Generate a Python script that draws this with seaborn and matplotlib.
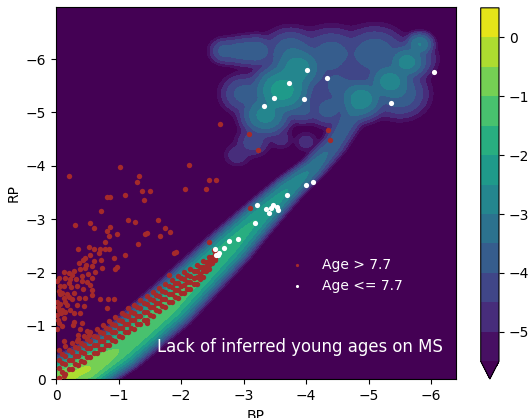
import numpy as np
import matplotlib
matplotlib.use("Agg")
import matplotlib.pyplot as plt
import seaborn as sns
import pandas as pd

# ---------------- density field description (log10 density) ----------------
ms_x = [0.5, -0.5, -1.0, -1.8, -2.8, -3.2, -3.7, -4.1, -4.45, -4.7, -4.9]
ms_y = [0.35, -0.2, -0.55, -1.35, -2.5, -2.98, -3.55, -3.95, -4.4, -4.9, -5.25]
ms_logpeak = [-0.3, -0.45, -1.0, -1.2, -1.7, -2.0, -2.5, -3.1, -3.7, -3.7, -3.2]
ms_width = [0.1, 0.1, 0.1, 0.105, 0.095, 0.085, 0.075, 0.07, 0.08, 0.09, 0.1]

blob_x = [-2.70, -2.95, -3.20, -3.75, -4.40, -5.10, -5.70, -5.50, -4.50, -3.00, -4.35, -3.95,
          -2.90, -3.15, -3.60, -4.00,
          -3.35, -3.62, -3.87, -4.88, -5.34, -5.61, -5.82]
blob_y = [-6.15, -6.15, -6.15, -6.15, -6.10, -6.10, -6.00, -5.35, -5.50, -5.35, -5.05, -5.05,
          -4.20, -4.45, -4.50, -4.45,
          -4.95, -5.42, -5.82, -5.25, -5.58, -5.94, -6.28]
blob_sigma = [0.10, 0.11, 0.12, 0.17, 0.20, 0.20, 0.15, 0.18, 0.20, 0.15, 0.13, 0.11,
              0.10, 0.12, 0.09, 0.09,
              0.14, 0.16, 0.15, 0.14, 0.13, 0.11, 0.08]
blob_logpeak = [-3.8, -3.7, -3.6, -3.6, -3.75, -3.6, -3.7, -3.6, -3.9, -3.8, -3.8, -3.9,
                -4.6, -4.2, -4.7, -4.7,
                -2.8, -2.25, -2.7, -2.8, -2.75, -2.8, -3.0]

# ---------------- scatter data ----------------
old_x = [-0.20, -1.03, -2.13, -1.32, -1.30, -2.06, -1.37, -1.50, -1.10, -0.87, -0.82, -1.41, -0.72,
         -0.30, -0.54, -0.61, -1.15, -1.27, -1.63, -0.86, -0.81, -1.75, -1.83, -1.46, -1.43, -0.98,
         -0.85, -0.78, -1.66, -1.31, -0.35, -0.52, -0.61, -0.71, -0.78, -0.85, -0.69, -0.54, -0.46,
         -1.11, -1.92, -1.89, -0.92, -0.72, -0.60, -0.43, -0.36, -0.48, -0.97, -0.94, -0.58, -0.47,
         -0.39, -0.73, -0.28, -0.13, -0.20, -0.26, -0.62, -0.51, -0.42, -0.57, -0.50, -0.41, -0.32,
         -0.23, -0.14, -0.05, -0.20, -0.12, -0.54, -0.34, -0.43, -0.57, -0.28, -0.17, -0.07, -0.04,
         -0.12, -0.25, -0.36, -0.46, -0.70, -0.83, -0.92, -0.06, -0.18, -0.33, -0.44, -0.04, -0.14,
         -0.28, -0.38, -0.81, -1.80, -0.57, -0.12, -0.28, -0.41, -0.03, -0.27, -0.10, -0.39, -0.49,
         -0.35, -0.33, -0.12, -0.52, -1.45,
         -0.02, -0.03, -0.02, -0.05, -0.01, -0.08, -0.06, -0.02, -0.10, -0.15, -0.20, -0.22, -0.09, -0.24,
         -2.62, -3.09, -3.23, -4.35, -4.38, -2.45, -2.56, -2.40, -3.10, -2.44, -2.52, -2.51,
         -0.04, -0.12]
old_y = [-3.81, -3.98, -4.01, -3.81, -3.70, -3.56, -3.53, -3.53, -3.46, -3.42, -3.42, -3.35, -3.16,
         -2.89, -2.92, -2.84, -2.98, -2.94, -2.99, -2.86, -2.77, -2.83, -2.76, -2.75, -2.73, -2.73,
         -2.68, -2.57, -2.69, -2.53, -2.44, -2.48, -2.45, -2.44, -2.44, -2.45, -2.37, -2.33, -2.28,
         -2.32, -2.39, -2.36, -2.28, -2.24, -2.21, -2.24, -2.17, -2.15, -2.10, -2.07, -2.12, -2.09,
         -2.07, -2.08, -2.02, -2.01, -1.99, -1.96, -2.01, -1.97, -1.94, -1.89, -1.82, -1.85, -1.87,
         -1.88, -1.89, -1.90, -1.80, -1.75, -1.77, -1.75, -1.69, -1.68, -1.62, -1.60, -1.60, -1.66,
         -1.52, -1.51, -1.52, -1.52, -1.50, -1.50, -1.51, -1.42, -1.40, -1.39, -1.38, -1.30, -1.27,
         -1.24, -1.25, -1.33, -1.96, -1.57, -1.15, -1.08, -1.05, -1.12, -1.02, -0.99, -0.94, -0.90,
         -0.83, -0.72, -0.71, -0.83, -1.05,
         -1.45, -1.35, -1.20, -1.05, -0.95, -1.25, -1.75, -1.85, -1.30, -1.45, -1.55, -1.30, -1.62, -1.72,
         -4.78, -4.59, -4.29, -4.67, -4.49, -3.73, -3.73, -3.57, -3.20, -2.58, -2.42, -2.28,
         -0.03, -0.06]

bandA_x = [-0.05, -0.15, -0.25, -0.35, -0.45, -0.55, -0.65, -0.75, -0.85, -0.95, -1.05, -1.15, -1.25,
           -1.35, -1.45, -1.55, -1.65, -1.75, -1.85, -1.95, -2.05, -2.15, -2.25, -2.35, -2.45, -2.55]
bandA_rows = [
    [-0.03, -0.10, -0.19, -0.26, -0.33, -0.41, -0.49, -0.56, -0.64, -0.72, -0.80, -0.88, -0.95,
     -1.03, -1.11, -1.19, -1.28, -1.36, -1.45, -1.53, -1.62, -1.70, -1.78, -1.91, -2.07, -2.23],
    [-0.21, -0.28, -0.36, -0.43, -0.50, -0.58, -0.65, -0.72, -0.80, -0.88, -0.96, -1.04, -1.11,
     -1.19, -1.27, -1.35, -1.43, -1.51, -1.59, -1.68, -1.76, -1.83, -1.91, -2.02, -2.15, -2.28],
    [-0.37, -0.44, -0.51, -0.58, -0.65, -0.72, -0.79, -0.86, -0.94, -1.02, -1.10, -1.18, -1.25,
     -1.33, -1.41, -1.48, -1.56, -1.64, -1.72, -1.80, -1.87, -1.94, -2.02, -2.11, -2.21, -2.32],
    [-0.55, -0.62, -0.68, -0.75, -0.82, -0.88, -0.94, -1.01, -1.09, -1.17, -1.25, -1.33, -1.40,
     -1.48, -1.56, -1.64, -1.71, -1.79, -1.86, -1.94, -2.01, -2.07, -2.15, -2.21, -2.29, -2.38],
]
bandB_x = [-0.10, -0.20, -0.30, -0.40, -0.50, -0.60, -0.70, -0.80, -0.90, -1.00, -1.10, -1.20, -1.30,
           -1.40, -1.50, -1.60, -1.70, -1.80, -1.90, -2.00, -2.10, -2.20, -2.30, -2.40, -2.50]
bandB_rows = [
    [-0.13, -0.20, -0.28, -0.35, -0.42, -0.50, -0.57, -0.65, -0.73, -0.81, -0.89, -0.96, -1.04,
     -1.12, -1.20, -1.29, -1.37, -1.45, -1.54, -1.62, -1.69, -1.78, -1.87, -2.03, -2.18],
    [-0.30, -0.37, -0.44, -0.51, -0.58, -0.65, -0.72, -0.80, -0.88, -0.96, -1.04, -1.11, -1.19,
     -1.27, -1.35, -1.43, -1.51, -1.59, -1.67, -1.75, -1.82, -1.90, -1.98, -2.11, -2.23],
    [-0.48, -0.55, -0.61, -0.68, -0.75, -0.81, -0.88, -0.96, -1.04, -1.12, -1.20, -1.27, -1.35,
     -1.43, -1.51, -1.58, -1.66, -1.74, -1.81, -1.89, -1.96, -2.03, -2.10, -2.19, -2.29],
]

young_x = [-4.01, -4.33, -3.73, -3.49, -3.96, -3.32, -5.36, -6.04, -4.00, -4.11, -3.70, -3.21, -3.36,
           -3.44, -3.47, -3.53, -3.55, -3.41, -3.19, -2.91, -2.77, -2.68, -2.55, -2.61, -2.56, -2.59]
young_y = [-5.80, -5.64, -5.56, -5.27, -5.25, -5.12, -5.18, -5.76, -3.64, -3.69, -3.46, -3.26, -3.19,
           -3.20, -3.26, -3.23, -3.18, -3.11, -2.93, -2.62, -2.60, -2.46, -2.44, -2.37, -2.33, -2.32]

labels = ["Age > 7.7", "Age <= 7.7"]
x_label, y_label = "BP", "RP"
note = "Lack of inferred young ages on MS"
levels = np.arange(-5.5, 0.51, 0.5)
cbar_ticks = [0, -1, -2, -3, -4, -5]
axis_ticks = [0, -1, -2, -3, -4, -5, -6]

# ---------------- build field ----------------
gx = np.linspace(0.3, -6.7, 500)
gy = np.linspace(0.3, -7.3, 540)
X, Y = np.meshgrid(gx, gy)
L10 = np.log10(np.e)

ms_log = np.full(X.shape, -50.0)
for i in range(len(ms_x) - 1):
    ax_, ay_ = ms_x[i], ms_y[i]
    bx_, by_ = ms_x[i + 1], ms_y[i + 1]
    dx, dy = bx_ - ax_, by_ - ay_
    t = np.clip(((X - ax_) * dx + (Y - ay_) * dy) / (dx * dx + dy * dy), 0, 1)
    d2 = (X - ax_ - t * dx) ** 2 + (Y - ay_ - t * dy) ** 2
    amp = ms_logpeak[i] + t * (ms_logpeak[i + 1] - ms_logpeak[i])
    w = ms_width[i] + t * (ms_width[i + 1] - ms_width[i])
    ms_log = np.maximum(ms_log, amp - d2 / (2 * w * w) * L10)
dens = 10 ** ms_log
for bx, by, bs, bl in zip(blob_x, blob_y, blob_sigma, blob_logpeak):
    dens += 10 ** (bl - ((X - bx) ** 2 + (Y - by) ** 2) / (2 * bs * bs) * L10)
Z = np.log10(dens + 1e-30)

# ---------------- assemble scatter tables ----------------
all_old_x = list(old_x)
all_old_y = list(old_y)
for row in bandA_rows:
    all_old_x += bandA_x
    all_old_y += row
for row in bandB_rows:
    all_old_x += bandB_x
    all_old_y += row
old_df = pd.DataFrame({"x": all_old_x, "y": all_old_y})
young_df = pd.DataFrame({"x": young_x, "y": young_y})

# ---------------- plot ----------------
fig = plt.figure(figsize=(5.3, 4.18), dpi=100)
ax = fig.add_axes([0.1057, 0.0926, 0.7547, 0.89])
cax = fig.add_axes([0.907, 0.0933, 0.0345, 0.888])

cf = ax.contourf(X, Y, Z, levels=levels, cmap="viridis", extend="min")

sns.scatterplot(data=old_df, x="x", y="y", color="#a52a2a", s=15, linewidth=0, ax=ax,
                label=labels[0], zorder=3)
sns.scatterplot(data=young_df, x="x", y="y", color="white", s=14, linewidth=0, ax=ax,
                label=labels[1], zorder=4)

ax.set_xlim(0, -6.4)
ax.set_ylim(0, -6.97)
ax.set_xticks(axis_ticks)
ax.set_yticks(axis_ticks)
ax.set_xlabel(x_label)
ax.set_ylabel(y_label)

ax.legend(loc="upper left", bbox_to_anchor=(0.5375, 0.36), frameon=False,
          labelcolor="white", markerscale=0.6, fontsize=10)

ax.text(-1.62, -0.51, note, color="white", fontsize=11.9, va="baseline", ha="left")

cb = fig.colorbar(cf, cax=cax)
cb.set_ticks(cbar_ticks)

fig.savefig("out.png", dpi=100)
